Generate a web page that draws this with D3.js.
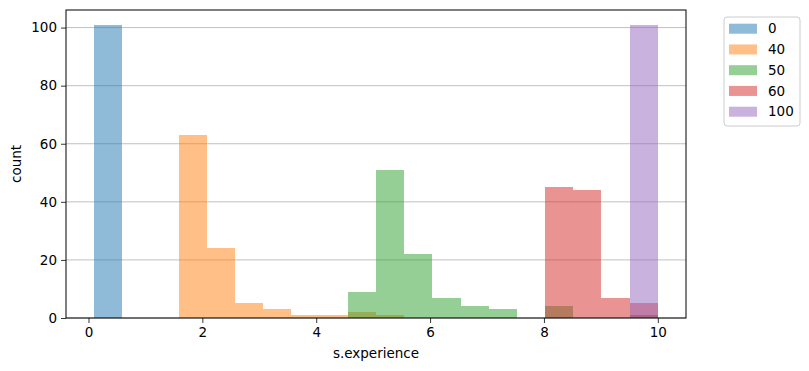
<!DOCTYPE html>
<html>
<head>
<meta charset="utf-8">
<script src="https://cdn.jsdelivr.net/npm/d3@7"></script>
<style>
	body { margin: 0; background: #fff; }
	svg text { font-family: "DejaVu Sans", sans-serif; fill: #000; }
</style>
</head>
<body>
<svg id="chart" width="809" height="371"></svg>
<script>
// histogram bins (20 bins between 0.1 and 10)
const binStart = 0.1, binWidth = 0.495;
const groups = ["0", "40", "50", "60", "100"];
const counts0   = [101,0,0,0,0,0,0,0,0,0,0,0,0,0,0,0,0,0,0,0];
const counts40  = [0,0,0,63,24,5,3,1,1,2,1,0,0,0,0,0,0,0,0,1];
const counts50  = [0,0,0,0,0,0,0,0,0,9,51,22,7,4,3,0,4,0,0,1];
const counts60  = [0,0,0,0,0,0,0,0,0,0,0,0,0,0,0,0,45,44,7,5];
const counts100 = [0,0,0,0,0,0,0,0,0,0,0,0,0,0,0,0,0,0,0,101];
const colors = ["#1f77b4", "#ff7f0e", "#2ca02c", "#d62728", "#9467bd"];
const xTicks = [0, 2, 4, 6, 8, 10];
const yTicks = [0, 20, 40, 60, 80, 100];

const allCounts = [counts0, counts40, counts50, counts60, counts100];

var margin = { top: 10, right: 123, bottom: 53, left: 66 },
	width = 809 - margin.left - margin.right,
	height = 371 - margin.top - margin.bottom,
	fontSize = "13.5px";

let svg = d3.select("#chart");
let g = svg.append("g").attr("transform", "translate(" + margin.left + "," + margin.top + ")");

let xMin = binStart, xMax = binStart + binWidth*counts0.length;
let pad = (xMax - xMin)*0.05;
let x = d3.scaleLinear().domain([xMin - pad, xMax + pad]).range([0, width]);
let yMax = d3.max(allCounts, function(c){ return d3.max(c); });
let y = d3.scaleLinear().domain([0, yMax*1.05]).range([height, 0]);

//grid
g.append("g")
	.selectAll("line")
	.data(yTicks)
	.enter()
	.append("line")
	.attr("x1", 0).attr("x2", width)
	.attr("y1", function(d){ return y(d); })
	.attr("y2", function(d){ return y(d); })
	.style("stroke", "#b0b0b0")
	.style("stroke-width", 0.8);

//bars
allCounts.forEach(function(c, k){
	let data = c.map(function(v, i){ return { i: i, v: v }; }).filter(function(d){ return d.v > 0; });
	g.append("g")
		.selectAll("rect")
		.data(data)
		.enter()
		.append("rect")
		.attr("x", function(d){ return x(binStart + d.i*binWidth); })
		.attr("width", function(d){ return x(binStart + (d.i+1)*binWidth) - x(binStart + d.i*binWidth); })
		.attr("y", function(d){ return y(d.v); })
		.attr("height", function(d){ return y(0) - y(d.v); })
		.style("fill", colors[k])
		.style("fill-opacity", 0.5)
		.attr("shape-rendering", "crispEdges");
});

//axes
let xAxis = g.append("g")
	.attr("transform", "translate(0," + height + ")")
	.call(d3.axisBottom(x).tickValues(xTicks).tickFormat(d3.format("d")).tickSize(5).tickPadding(4));
let yAxis = g.append("g")
	.call(d3.axisLeft(y).tickValues(yTicks).tickFormat(d3.format("d")).tickSize(5).tickPadding(4));
[xAxis, yAxis].forEach(function(a){
	a.select(".domain").remove();
	a.selectAll("text").style("font-size", fontSize).style("font-family", "DejaVu Sans");
	a.selectAll("line").style("stroke", "#000").style("stroke-width", 0.8);
});

//frame
g.append("rect")
	.attr("x", 0).attr("y", 0)
	.attr("width", width).attr("height", height)
	.style("fill", "none")
	.style("stroke", "#000")
	.style("stroke-width", 1);

//labels
svg.append("text")
	.attr("x", margin.left + width/2)
	.attr("y", 358)
	.style("text-anchor", "middle")
	.style("font-size", fontSize)
	.text("s.experience");
svg.append("text")
	.attr("transform", "translate(21," + (margin.top + height/2) + ") rotate(-90)")
	.style("text-anchor", "middle")
	.style("font-size", fontSize)
	.text("count");

//legend
let legend = svg.append("g").attr("transform", "translate(724,17)");
legend.append("rect")
	.attr("x", 0).attr("y", 0)
	.attr("width", 76).attr("height", 109)
	.attr("rx", 3)
	.style("fill", "#fff")
	.style("fill-opacity", 0.8)
	.style("stroke", "#cccccc")
	.style("stroke-width", 1);
let items = legend.selectAll(".item")
	.data(groups)
	.enter()
	.append("g")
	.attr("transform", function(d, i){ return "translate(0," + (11.7 + i*20.75) + ")"; });
items.append("rect")
	.attr("x", 5).attr("y", -5)
	.attr("width", 28).attr("height", 10)
	.style("fill", function(d, i){ return colors[i]; })
	.style("fill-opacity", 0.5);
items.append("text")
	.attr("x", 44).attr("y", 0)
	.attr("dy", "0.35em")
	.style("font-size", fontSize)
	.text(function(d){ return d; });
</script>
</body>
</html>
